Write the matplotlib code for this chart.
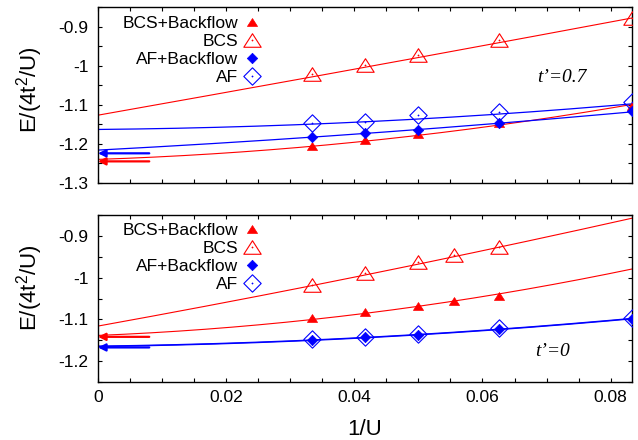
import numpy as np
import matplotlib
matplotlib.use('Agg')
import matplotlib.pyplot as plt
from matplotlib.path import Path
from matplotlib.ticker import MultipleLocator, FuncFormatter

plt.rcParams['font.family'] = ['Liberation Sans', 'DejaVu Sans']
plt.rcParams['axes.unicode_minus'] = False
plt.rcParams['mathtext.fontset'] = 'custom'
plt.rcParams['mathtext.rm'] = 'Liberation Sans'
plt.rcParams['mathtext.it'] = 'Liberation Sans:italic'

# ---------------- data ----------------
# top panel: t'=0.7
top_x = [1/30, 1/24, 1/20, 1/16, 1/12]
top_bcs_bf = [-1.2056, -1.190, -1.1758, -1.1477, -1.1018]
top_bcs = [-1.0202, -0.997, -0.9717, -0.9334, -0.878]
top_af_bf = [-1.1816, -1.1732, -1.1648, -1.1459, -1.1163]
top_af = [-1.1477, -1.1434, -1.1273, -1.1189, -1.0923]

# bottom panel: t'=0
bot_bcs_x = [1/30, 1/24, 1/20, 1/18, 1/16]
bot_bcs_bf = [-1.0976, -1.0832, -1.0674, -1.0554, -1.0441]
bot_bcs = [-1.0177, -0.9896, -0.9632, -0.9457, -0.9258]
bot_af_x = [1/30, 1/24, 1/20, 1/16, 1/12]
bot_af_bf = [-1.1490, -1.1428, -1.1363, -1.1226, -1.0986]
bot_af = [-1.148, -1.1418, -1.1353, -1.1216, -1.0976]

# fitted curves, values read at 1/U = 0, 1/24, 1/12
fit_x = [0.0, 1/24, 1/12]
top_fit_bcs_bf = [-1.2395, -1.193, -1.099]
top_fit_bcs = [-1.1265, -1.004, -0.878]
top_fit_af_bf = [-1.2158, -1.1732, -1.118]
top_fit_af = [-1.163, -1.1434, -1.0975]
bot_fit_bcs_bf = [-1.1384, -1.0856, -0.9793]
bot_fit_bcs = [-1.116, -0.9937, -0.8576]
bot_fit_af_bf = [-1.1650, -1.1442, -1.0986]
bot_fit_af = [-1.164, -1.1432, -1.0976]

# extrapolated values marked by arrows
arrow_tail_x = 0.008
top_arrow_red = -1.2446
top_arrow_blue = -1.224
bot_arrow_red = -1.1418
bot_arrow_blue = -1.1672

labels = ['BCS+Backflow', 'BCS', 'AF+Backflow', 'AF']

RED = '#ff0000'
BLUE = '#0000ff'

tri = Path([(-1, -0.78), (1, -0.78), (0, 0.78), (-1, -0.78)],
           [Path.MOVETO, Path.LINETO, Path.LINETO, Path.CLOSEPOLY])
dia = Path([(0, 1), (1, 0), (0, -1), (-1, 0), (0, 1)],
           [Path.MOVETO, Path.LINETO, Path.LINETO, Path.LINETO, Path.CLOSEPOLY])

fig = plt.figure(figsize=(6.38, 4.40), dpi=100)
ax1 = fig.add_axes([0.1536, 0.584, 0.837, 0.400])
ax2 = fig.add_axes([0.1536, 0.1318, 0.837, 0.3795])

xs = np.linspace(0, 1/12, 300)


def fit_curve(ax, vals, color, lw):
    c = np.polyfit(fit_x, vals, 2)
    ax.plot(xs, np.polyval(c, xs), color=color, lw=lw, zorder=2)


def draw_panel(ax, bcs_bf_x, bcs_bf, bcs_x, bcs, af_bf_x, af_bf, af_x, af,
               fits, arrows, ylim, tlabel, tpos, leg_y):
    fit_curve(ax, fits[0], RED, 0.8)
    fit_curve(ax, fits[1], RED, 0.8)
    fit_curve(ax, fits[2], BLUE, 0.9)
    fit_curve(ax, fits[3], BLUE, 0.9)
    h1, = ax.plot(bcs_bf_x, bcs_bf, ls='none', marker=tri, ms=7.3,
                  mfc=RED, mec=RED, mew=0.5, zorder=4)
    h2, = ax.plot(bcs_x, bcs, ls='none', marker=tri, ms=12.5,
                  mfc='none', mec=RED, mew=0.8, zorder=3)
    h2d, = ax.plot(bcs_x, bcs, ls='none', marker='o', ms=1.0,
                   mfc=RED, mec=RED, mew=0.2, zorder=3)
    h3, = ax.plot(af_bf_x, af_bf, ls='none', marker=dia, ms=7.5,
                  mfc=BLUE, mec=BLUE, mew=0.5, zorder=5)
    h4, = ax.plot(af_x, af, ls='none', marker=dia, ms=12.5,
                  mfc='none', mec=BLUE, mew=0.8, zorder=4)
    h4d, = ax.plot(af_x, af, ls='none', marker='o', ms=1.0,
                   mfc=BLUE, mec=BLUE, mew=0.2, zorder=4)
    for yv, col in arrows:
        ax.annotate('', xy=(0, yv), xytext=(arrow_tail_x, yv),
                    arrowprops=dict(arrowstyle='-|>', color=col, lw=1.6,
                                    mutation_scale=11, shrinkA=0, shrinkB=0),
                    zorder=6, annotation_clip=False)
    ax.set_xlim(0, 1/12)
    ax.set_ylim(*ylim)
    ax.xaxis.set_major_locator(MultipleLocator(0.02))
    ax.xaxis.set_minor_locator(MultipleLocator(0.005))
    ax.yaxis.set_major_locator(MultipleLocator(0.1))
    ax.yaxis.set_minor_locator(MultipleLocator(0.05))
    fmt = FuncFormatter(lambda v, p: '%g' % round(v, 6))
    ax.xaxis.set_major_formatter(fmt)
    ax.yaxis.set_major_formatter(fmt)
    ax.tick_params(which='both', direction='in', top=True, right=True,
                   length=2.6, width=0.8, labelsize=12.5)
    ax.tick_params(axis='y', pad=7)
    ax.tick_params(axis='x', pad=6)
    for s in ax.spines.values():
        s.set_linewidth(1.0)
    ax.legend([h1, (h2, h2d), h3, (h4, h4d)], labels, loc='upper right',
              bbox_to_anchor=(0.305, leg_y), frameon=False,
              markerfirst=False, handlelength=1.0, handletextpad=0.3,
              labelspacing=0.17, fontsize=12.5, borderpad=0,
              borderaxespad=0)
    ax.text(tpos[0], tpos[1], tlabel, transform=ax.transAxes, ha='center',
            va='center', fontsize=14, family='Liberation Serif', style='italic')
    ax.set_ylabel('E/(4t$^2$/U)', fontsize=16)


draw_panel(ax1, top_x, top_bcs_bf, top_x, top_bcs, top_x, top_af_bf, top_x, top_af,
           [top_fit_bcs_bf, top_fit_bcs, top_fit_af_bf, top_fit_af],
           [(top_arrow_red, RED), (top_arrow_blue, BLUE)],
           (-1.3, -0.85), 't\u2019=0.7', (0.869, 0.602), 0.951)
ax1.tick_params(axis='x', labelbottom=False)
ax1.yaxis.set_label_coords(-0.10, 0.53)

draw_panel(ax2, bot_bcs_x, bot_bcs_bf, bot_bcs_x, bot_bcs, bot_af_x, bot_af_bf,
           bot_af_x, bot_af,
           [bot_fit_bcs_bf, bot_fit_bcs, bot_fit_af_bf, bot_fit_af],
           [(bot_arrow_red, RED), (bot_arrow_blue, BLUE)],
           (-1.25, -0.85), 't\u2019=0', (0.852, 0.18), 0.954)
ax2.yaxis.set_label_coords(-0.10, 0.565)
ax2.set_xlabel('1/U', fontsize=16)
ax2.xaxis.set_label_coords(0.5, -0.22)

fig.savefig('out.png', dpi=100)
